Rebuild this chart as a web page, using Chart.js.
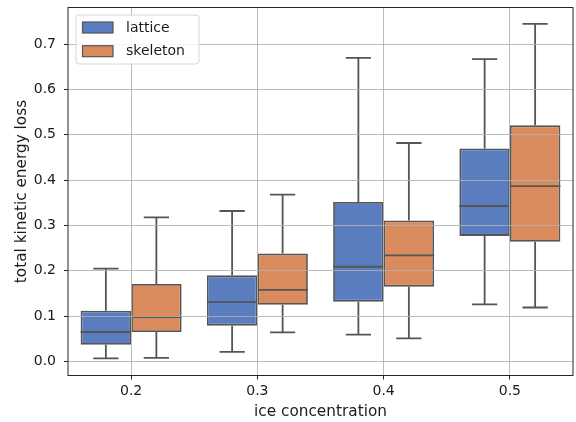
<!DOCTYPE html>
<html>
<head>
<meta charset="utf-8">
<script src="https://cdn.jsdelivr.net/npm/chart.js@4.4.1/dist/chart.umd.min.js"></script>
<style>
  html, body { margin: 0; padding: 0; background: #fff; }
  #wrap { width: 576px; height: 422px; }
</style>
</head>
<body>
<div id="wrap"><canvas id="chart" width="576" height="422"></canvas></div>
<script>
// Categories on the x axis
const concentrations = ['0.2', '0.3', '0.4', '0.5'];
const seriesNames = ['lattice', 'skeleton'];

// Box plot summaries
const latticeMin = [0.007, 0.021, 0.059, 0.126];
const latticeQ1  = [0.037, 0.079, 0.132, 0.277];
const latticeMed = [0.065, 0.131, 0.209, 0.343];
const latticeQ3  = [0.112, 0.190, 0.352, 0.470];
const latticeMax = [0.205, 0.332, 0.670, 0.667];

const skeletonMin = [0.008, 0.064, 0.051, 0.119];
const skeletonQ1  = [0.065, 0.125, 0.165, 0.264];
const skeletonMed = [0.098, 0.158, 0.234, 0.387];
const skeletonQ3  = [0.171, 0.238, 0.311, 0.521];
const skeletonMax = [0.318, 0.368, 0.482, 0.745];

const yTicks = [0, 0.1, 0.2, 0.3, 0.4, 0.5, 0.6, 0.7];

const colors = ['#597dbf', '#d98b5e'];
const edge = '#555555';
const tickFont = { family: 'DejaVu Sans', size: 14 };
const labelFont = { family: 'DejaVu Sans', size: 15.3 };

const stats = [
  { min: latticeMin, q1: latticeQ1, med: latticeMed, q3: latticeQ3, max: latticeMax },
  { min: skeletonMin, q1: skeletonQ1, med: skeletonMed, q3: skeletonQ3, max: skeletonMax }
];

// whiskers, caps and medians on top of the floating bars
const boxPlugin = {
  id: 'boxParts',
  afterDatasetsDraw(chart) {
    const ctx = chart.ctx;
    const y = chart.scales.y;
    ctx.save();
    ctx.strokeStyle = edge;
    ctx.lineWidth = 1.8;
    chart.data.datasets.forEach((ds, di) => {
      const meta = chart.getDatasetMeta(di);
      const s = stats[di];
      meta.data.forEach((bar, i) => {
        const x = bar.x;
        const w = bar.width;
        const yMin = y.getPixelForValue(s.min[i]);
        const yQ1 = y.getPixelForValue(s.q1[i]);
        const yMed = y.getPixelForValue(s.med[i]);
        const yQ3 = y.getPixelForValue(s.q3[i]);
        const yMax = y.getPixelForValue(s.max[i]);
        ctx.beginPath();
        ctx.moveTo(x, yQ3); ctx.lineTo(x, yMax);
        ctx.moveTo(x - w / 4, yMax); ctx.lineTo(x + w / 4, yMax);
        ctx.moveTo(x, yQ1); ctx.lineTo(x, yMin);
        ctx.moveTo(x - w / 4, yMin); ctx.lineTo(x + w / 4, yMin);
        ctx.moveTo(x - w / 2, yMed); ctx.lineTo(x + w / 2, yMed);
        ctx.stroke();
      });
    });
    ctx.restore();
  },
  afterDraw(chart) {
    const ctx = chart.ctx;
    const a = chart.chartArea;
    ctx.save();
    // axes frame
    ctx.strokeStyle = '#262626';
    ctx.lineWidth = 1;
    ctx.strokeRect(a.left, a.top, a.right - a.left, a.bottom - a.top);

    // legend in the upper left corner
    const lx = a.left + 8, ly = a.top + 7.5, lw = 123, lh = 49;
    ctx.fillStyle = 'rgba(255,255,255,0.85)';
    ctx.strokeStyle = '#d6d6d6';
    ctx.lineWidth = 1;
    ctx.beginPath();
    ctx.roundRect(lx, ly, lw, lh, 3);
    ctx.fill();
    ctx.stroke();
    ctx.font = tickFont.size + 'px ' + tickFont.family;
    ctx.textBaseline = 'middle';
    seriesNames.forEach((name, i) => {
      const ry = ly + 7 + i * 23.7;
      ctx.fillStyle = colors[i];
      ctx.fillRect(lx + 6.5, ry, 30.5, 11);
      ctx.strokeStyle = edge;
      ctx.lineWidth = 1.2;
      ctx.strokeRect(lx + 6.5, ry, 30.5, 11);
      ctx.fillStyle = '#1a1a1a';
      ctx.fillText(name, lx + 50, ry + 6);
    });
    ctx.restore();
  }
};

new Chart(document.getElementById('chart'), {
  type: 'bar',
  data: {
    labels: concentrations,
    datasets: seriesNames.map((name, di) => ({
      label: name,
      data: stats[di].q1.map((q1, i) => [q1, stats[di].q3[i]]),
      backgroundColor: colors[di],
      borderColor: edge,
      borderWidth: 1.8,
      borderSkipped: false,
      categoryPercentage: 0.8,
      barPercentage: 1.0
    }))
  },
  options: {
    responsive: false,
    animation: false,
    layout: { padding: { top: 7.5, right: 3, left: 0, bottom: 0 } },
    plugins: {
      legend: { display: false },
      tooltip: { enabled: false }
    },
    scales: {
      x: {
        offset: true,
        grid: { offset: false, color: 'rgba(176,176,176,0.85)', lineWidth: 1, z: 1,
                tickColor: '#262626', tickLength: 4 },
        border: { display: false },
        ticks: { color: '#1a1a1a', font: tickFont, padding: 3 },
        title: { display: true, text: 'ice concentration', color: '#1a1a1a', font: labelFont, padding: { top: 0, bottom: 1 } },
        afterFit(scale) {
          scale.height = 46.5;
          scale.paddingLeft = 0;
          scale.paddingRight = 0;
        }
      },
      y: {
        min: -0.031,
        max: 0.781,
        grid: { color: 'rgba(176,176,176,0.85)', lineWidth: 1, z: 1,
                tickColor: '#262626', tickLength: 4 },
        border: { display: false },
        ticks: {
          color: '#1a1a1a', font: tickFont, padding: 8, stepSize: 0.1, includeBounds: false,
          callback: (v) => v.toFixed(1)
        },
        afterBuildTicks(scale) {
          scale.ticks = yTicks.map(v => ({ value: v }));
        },
        title: { display: true, text: 'total kinetic energy loss', color: '#1a1a1a', font: labelFont, padding: { top: 13, bottom: 0 } },
        afterFit(scale) {
          scale.width = 68;
          scale.paddingTop = 0;
          scale.paddingBottom = 0;
        }
      }
    }
  },
  plugins: [boxPlugin]
});
</script>
</body>
</html>
